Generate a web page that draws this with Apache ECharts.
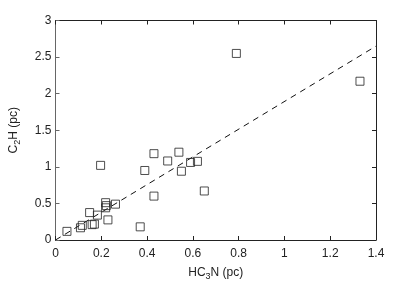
<!DOCTYPE html>
<html><head><meta charset="utf-8">
<script src="https://cdn.jsdelivr.net/npm/echarts@6/dist/echarts.min.js"></script>
<style>html,body{margin:0;padding:0;background:#fff}#c{width:415px;height:286px}</style>
</head><body><div id="c"></div>
<script>
var hc3n = [0.05,0.109,0.117,0.149,0.16,0.17,0.183,0.197,0.219,0.219,0.222,0.229,0.262,0.37,0.39,0.43,0.43,0.49,0.539,0.55,0.59,0.62,0.65,0.79,1.33];
var c2h  = [0.118,0.167,0.2,0.375,0.21,0.217,0.34,1.02,0.51,0.44,0.47,0.275,0.49,0.18,0.95,1.18,0.6,1.08,1.2,0.94,1.06,1.075,0.67,2.55,2.17];
var fitX = [0, 1.4];
var fitY = [0, 2.65];
var xTicks = [0,0.2,0.4,0.6,0.8,1,1.2,1.4];
var yTicks = [0,0.5,1,1.5,2,2.5,3];

var pts = hc3n.map(function(v,i){return [v,c2h[i]];});
var fit = fitX.map(function(v,i){return [v,fitY[i]];});
var font = 'Liberation Sans, Arial, sans-serif';
var txt = {color:'#222', fontFamily:font, fontSize:12};
function baseAxis(o, col){
  return Object.assign({
    type:'value', min:0,
    axisLine:{show:true, onZero:false, lineStyle:{color:col,width:1}},
    axisTick:{show:true, inside:true, length:4, lineStyle:{color:col}},
    splitLine:{show:false}
  }, o);
}
var chart = echarts.init(document.getElementById('c'), null, {renderer:'canvas'});
chart.setOption({
  animation:false,
  grid:{left:54, right:39, top:20.5, bottom:45, containLabel:false},
  xAxis:[
    baseAxis({max:1.4, interval:0.2, position:'bottom',
      axisLabel:Object.assign({margin:8, formatter:function(v){return String(+v.toFixed(1));}}, txt),
      name:'{a|HC}{s|3}{a|N (pc)}', nameLocation:'middle', nameGap:24,
      nameTextStyle:{rich:{a:Object.assign({},txt), s:{color:'#222',fontFamily:font,fontSize:9,padding:[8,0,0,0]}}}}, '#222'),
    baseAxis({max:1.4, interval:0.2, position:'top', axisLabel:{show:false}}, '#222')
  ],
  yAxis:[
    baseAxis({max:3, interval:0.5, position:'left',
      axisLabel:Object.assign({margin:4, formatter:function(v){return String(+v.toFixed(1));}}, txt),
      name:'{a|C}{s|2}{a|H (pc)}', nameLocation:'middle', nameGap:33, nameRotate:90,
      nameTextStyle:{rich:{a:Object.assign({},txt), s:{color:'#222',fontFamily:font,fontSize:9,padding:[8,0,0,0]}}}}, '#666'),
    baseAxis({max:3, interval:0.5, position:'right', axisLabel:{show:false}}, '#222')
  ],
  series:[
    {type:'line', data:fit, showSymbol:false, symbol:'none', silent:true,
     lineStyle:{color:'#111', width:1, type:[6,5]}, z:1},
    {type:'scatter', data:pts, symbol:'rect', symbolSize:8,
     itemStyle:{color:'rgba(255,255,255,0)', borderColor:'#222', borderWidth:1}, z:2}
  ]
});
</script></body></html>
